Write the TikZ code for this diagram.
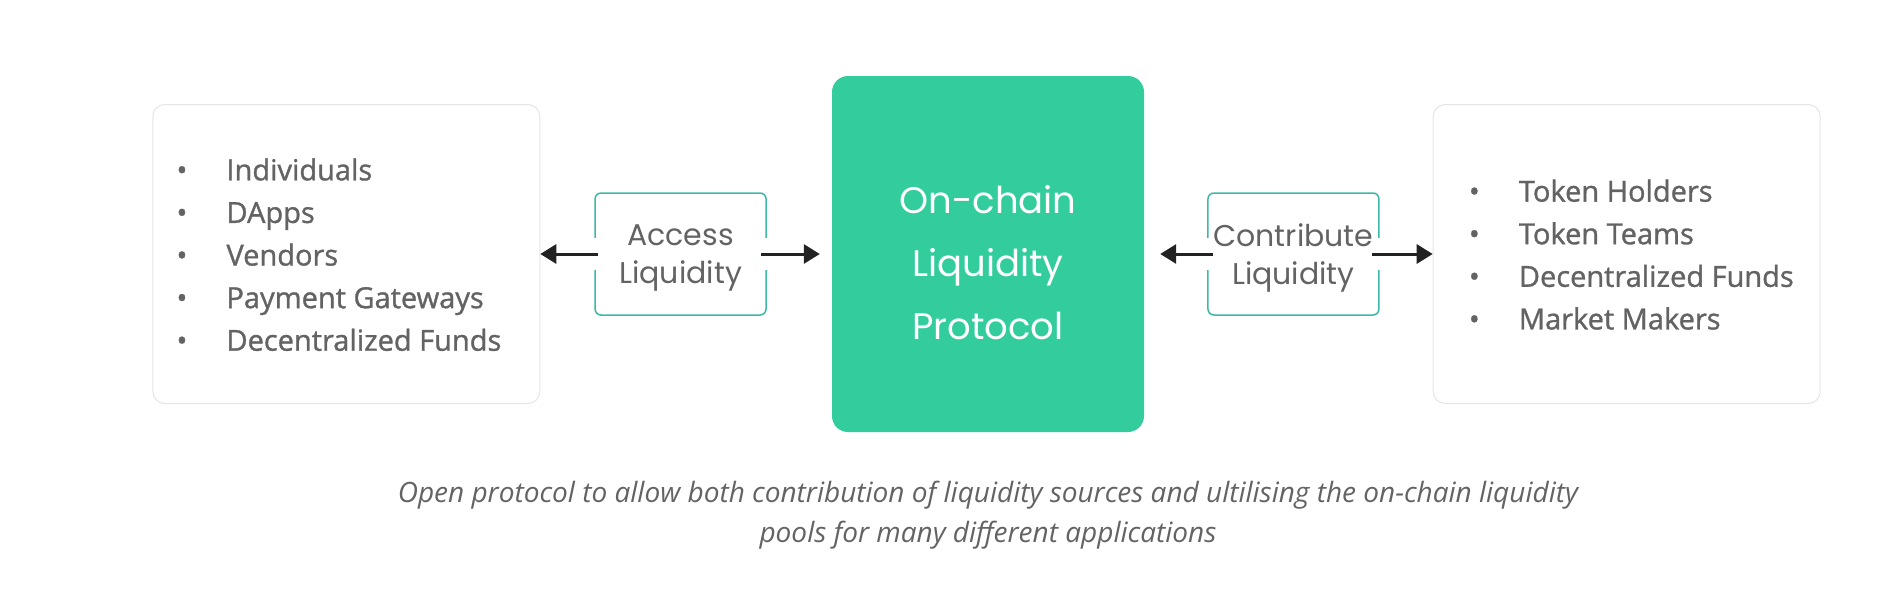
\documentclass[tikz,border=0pt]{standalone}
\usepackage{fontspec}
\setmainfont{Open Sans}
\newfontfamily\listfont[FakeBold=1.1]{Open Sans}
\newfontfamily\boxfont{Poppins}
\usetikzlibrary{positioning,arrows.meta,calc}
\definecolor{protogreen}{HTML}{33CC9C}
\definecolor{tealline}{HTML}{3DB8A6}
\definecolor{txtgray}{HTML}{636363}
\definecolor{arrowdark}{HTML}{222222}
\tikzset{
  listbox/.style={draw=black!10, fill=white, rounded corners=12pt,
    minimum width=387pt, minimum height=299pt, line width=1pt},
  listtext/.style={inner sep=0pt, text=txtgray, anchor=west,
    font=\listfont\fontsize{29}{42.6}\selectfont},
  flowbox/.style={draw=tealline, line width=1.5pt, rounded corners=6pt,
    minimum width=171pt, minimum height=122pt},
  flowtext/.style={align=center, text=txtgray,
    font=\boxfont\fontsize{30}{38}\selectfont},
  corebox/.style={fill=protogreen, rounded corners=16pt,
    minimum width=312pt, minimum height=356pt},
  coretext/.style={align=center, text=white,
    font=\boxfont\fontsize{37}{63}\selectfont},
  gapcut/.style={fill=white},
  arr/.style={draw=arrowdark, line width=3pt,
    -{Triangle[length=16pt, width=19pt]}}
}
\begin{document}
\begin{tikzpicture}[x=1pt, y=-1pt]
  \useasboundingbox (0,0) rectangle (1898,600);
  % middle
  \node[corebox] (core) at (988,254) {};
  \node[coretext] (coretitle) at ($(core.center)+(0,9)$) {On-chain\\Liquidity\\Protocol};
  \node[flowbox, left=65pt of core] (access) {};
  \node[flowbox, right=63pt of core] (contrib) {};
  \node[flowtext] (accesstext) at ($(access.center)+(0,4)$) {Access\\Liquidity};
  \node[flowtext] (contribtext) at ($(contrib.center)+(0,4)$) {Contribute\\Liquidity};
  % lists
  \node[listbox, left=54pt of access] (users) {};
  \node[listbox, right=53pt of contrib] (holders) {};
  \node[listtext] (userlist) at ($(users.west)+(24,3)$) {%
    \begin{tabular}{@{}p{50pt}@{}l@{}}
      • & Individuals\\
      • & DApps\\
      • & Vendors\\
      • & Payment Gateways\\
      • & Decentralized Funds
    \end{tabular}};
  \node[listtext] (holderlist) at ($(holders.west)+(36,3)$) {%
    \begin{tabular}{@{}p{50pt}@{}l@{}}
      • & Token Holders\\
      • & Token Teams\\
      • & Decentralized Funds\\
      • & Market Makers
    \end{tabular}};
  % breaks in the borders
  \foreach \b in {access, contrib} {
    \fill[gapcut] ($(\b.west)+(-3,-16)$) rectangle ($(\b.west)+(3,16)$);
    \fill[gapcut] ($(\b.east)+(-3,-16)$) rectangle ($(\b.east)+(3,16)$);
  }
  % arrows
  \draw[arr, shorten <=-4pt] (access.west) -- (users.east);
  \draw[arr, shorten <=-6pt, shorten >=12pt] (access.east) -- (core.west);
  \draw[arr, shorten <=-6pt, shorten >=16pt] (contrib.west) -- (core.east);
  \draw[arr, shorten <=-8pt] (contrib.east) -- (holders.west);
  % caption
  \node[text=txtgray, align=center, font=\itshape\fontsize{28}{40}\selectfont]
    (caption) at (988,515) {Open protocol to allow both contribution of liquidity sources and ultilising the on-chain liquidity\\pools for many different applications};
\end{tikzpicture}
\end{document}
